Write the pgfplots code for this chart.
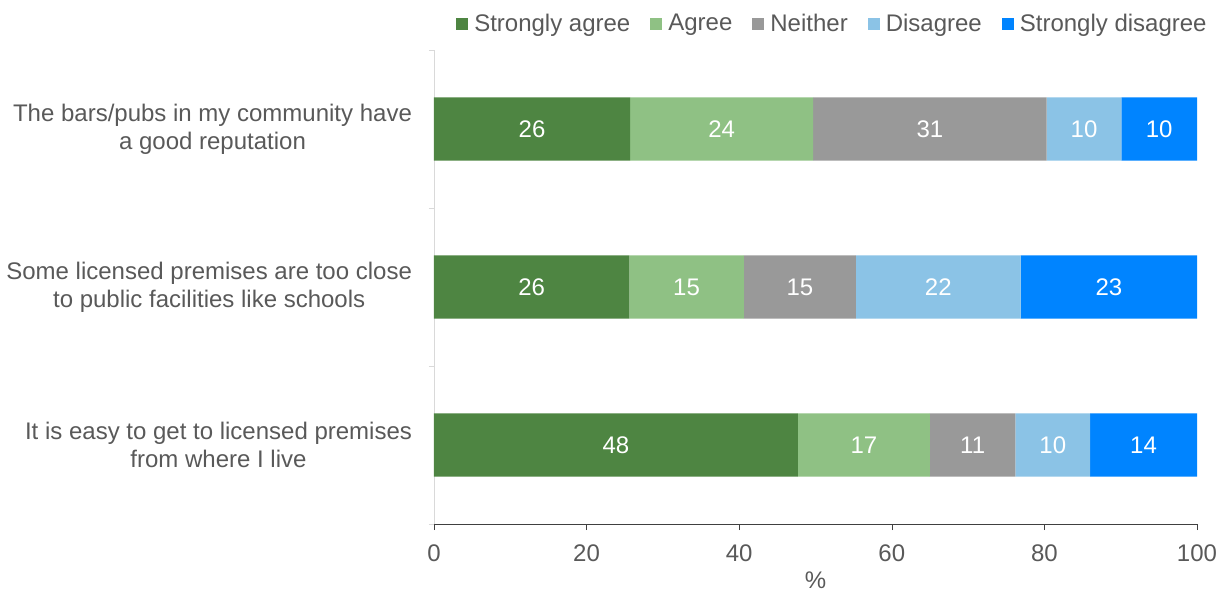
\documentclass[border=0pt]{standalone}
\usepackage{pgfplots}
\pgfplotsset{compat=1.18}
\usepackage{fontspec}
\setmainfont{Liberation Sans}
\definecolor{sagree}{HTML}{4E8542}
\definecolor{agree}{HTML}{8FC184}
\definecolor{neither}{HTML}{999999}
\definecolor{disagree}{HTML}{8BC3E6}
\definecolor{sdisagree}{HTML}{0084FF}
\definecolor{txt}{HTML}{595959}
\begin{document}
\begin{tikzpicture}[font=\fontsize{12}{14}\selectfont]
\begin{axis}[
  name=ax,
  scale only axis,
  width=381.5pt, height=237pt,
  xbar stacked,
  bar width=0.4,
  xmin=0, xmax=100,
  ymin=-0.5, ymax=2.5,
  y dir=reverse,
  axis lines=left,
  axis line style={-},
  x axis line style={draw=black!75},
  y axis line style={draw=black!15},
  /pgf/number format/assume math mode=true,
  xtick={0,20,40,60,80,100},
  ytick={0,1,2},
  yticklabels={{The bars/pubs in my community have\\a good reputation},
               {Some licensed premises are too close\\to public facilities like schools},
               {It is easy to get to licensed premises\\from where I live}},
  yticklabel style={align=center, text=txt, xshift=-4.5pt},
  xticklabel style={text=txt, yshift=-4pt},
  x tick style={draw=black!75},
  y tick style={draw=none},
  tick align=outside,
  major tick length=3pt,
  extra y ticks={-0.5,0.5,1.5,2.5},
  extra y tick labels={},
  extra y tick style={y tick style={draw=black!15}, major tick length=2.5pt},
  xlabel={\%},
  xlabel style={text=txt, yshift=2pt},
  visualization depends on=rawx \as \rawx,
  nodes near coords={\pgfmathprintnumber[fixed,precision=0]{\rawx}},
  every node near coord/.append style={text=white, anchor=center},
  legend columns=5,
  legend style={draw=none, fill=none, at={(1.0236,1.055)}, anchor=east,
    text=txt, nodes={inner sep=1pt},
    /tikz/every odd column/.append style={column sep=2pt},
    /tikz/every even column/.append style={column sep=9pt}},
  legend image code/.code={\fill[#1] (0pt,-3pt) rectangle (6pt,3pt);},
]
\addplot[fill=sagree, draw=none] coordinates {(25.7,0) (25.6,1) (47.7,2)};
\addplot[fill=agree, draw=none] coordinates {(24.0,0) (15.0,1) (17.3,2)};
\addplot[fill=neither, draw=none] coordinates {(30.6,0) (14.7,1) (11.2,2)};
\addplot[fill=disagree, draw=none] coordinates {(9.8,0) (21.6,1) (9.8,2)};
\addplot[fill=sdisagree, draw=none] coordinates {(9.9,0) (23.1,1) (14.0,2)};
\legend{Strongly agree, Agree, Neither, Disagree, Strongly disagree}
\end{axis}
\pgfresetboundingbox
\path[use as bounding box] ([xshift=-217pt,yshift=-33.5pt]ax.south west) rectangle ++(610pt,295.5pt);
\end{tikzpicture}
\end{document}
